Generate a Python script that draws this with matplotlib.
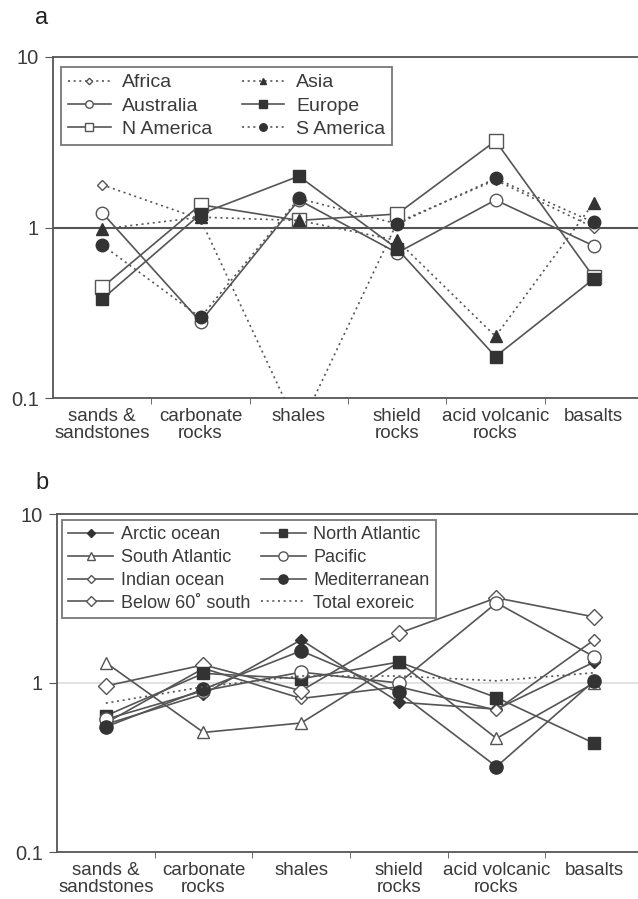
import matplotlib
matplotlib.use("Agg")
import matplotlib.pyplot as plt
import numpy as np

plt.rcParams['font.family'] = ['Liberation Sans', 'DejaVu Sans']

categories = ["sands &\nsandstones", "carbonate\nrocks", "shales", "shield\nrocks",
              "acid volcanic\nrocks", "basalts"]

# Panel a (continents)
africa = [1.78, 1.12, 0.065, 1.07, 1.90, 1.00]
australia = [1.22, 0.28, 1.45, 0.71, 1.45, 0.78]
n_america = [0.445, 1.36, 1.10, 1.20, 3.22, 0.51]
asia = [0.98, 1.15, 1.10, 0.84, 0.23, 1.40]
europe = [0.38, 1.20, 2.00, 0.75, 0.175, 0.50]
s_america = [0.79, 0.297, 1.48, 1.05, 1.94, 1.07]

# Panel b (oceans)
arctic = [0.57, 0.86, 1.80, 0.77, 0.70, 1.33]
south_atlantic = [1.32, 0.51, 0.58, 1.33, 0.47, 1.00]
indian = [0.58, 1.22, 0.81, 0.95, 0.69, 1.80]
below60 = [0.96, 1.28, 0.90, 1.97, 3.19, 2.46]
north_atlantic = [0.64, 1.14, 1.06, 1.33, 0.82, 0.44]
pacific = [0.61, 0.90, 1.16, 1.00, 2.98, 1.43]
mediterranean = [0.55, 0.92, 1.55, 0.88, 0.32, 1.03]
total_exoreic = [0.76, 0.95, 1.10, 1.10, 1.03, 1.15]

LC = "#555555"
DK = "#333333"
TXT = "#3a3a3a"
x = np.arange(len(categories))

fig = plt.figure(figsize=(6.38, 8.99), dpi=100)

def style_axis(ax):
    ax.set_yscale('log')
    ax.set_ylim(0.1, 10)
    ax.set_xlim(-0.5, 5.5)
    ax.set_yticks([0.1, 1, 10])
    ax.set_yticklabels(["0.1", "1", "10"])
    ax.yaxis.set_minor_locator(matplotlib.ticker.NullLocator())
    ax.set_xticks(x)
    ax.set_xticklabels(categories, linespacing=1.05)
    ax.set_xticks(np.arange(0.5, 5.0, 1.0), minor=True)
    ax.tick_params(axis='x', which='major', length=0, pad=7, labelsize=13.5, colors=TXT)
    ax.tick_params(axis='x', which='minor', length=4, direction='out', color=LC)
    ax.tick_params(axis='y', which='major', length=6, direction='out', labelsize=14.5,
                   colors=TXT, color=LC, pad=4)
    for s in ['left', 'bottom', 'top']:
        ax.spines[s].set_color(LC)
        ax.spines[s].set_linewidth(1.3)
    ax.spines['right'].set_visible(False)

# ---------- panel a ----------
axa = fig.add_axes([53/638, 1-398/899, 590/638, (398-57)/899])
style_axis(axa)
axa.axhline(1, color=LC, lw=1.5, zorder=1)
dot = (0, (1.2, 2.2))
series_a = [
    ("Africa", africa, dict(ls=dot, marker='D', ms=5.5, mfc='white', mec=LC)),
    ("Australia", australia, dict(ls='-', marker='o', ms=9, mfc='white', mec=LC)),
    ("N America", n_america, dict(ls='-', marker='s', ms=10, mfc='white', mec=LC)),
    ("Asia", asia, dict(ls=dot, marker='^', ms=8, mfc=DK, mec=DK)),
    ("Europe", europe, dict(ls='-', marker='s', ms=9, mfc=DK, mec=DK)),
    ("S America", s_america, dict(ls=dot, marker='o', ms=9, mfc=DK, mec=DK)),
]
for name, vals, kw in series_a:
    axa.plot(x, vals, color=LC, lw=1.2, label=name, zorder=3, clip_on=True, **kw)
leg = axa.legend(loc='upper left', ncol=2, bbox_to_anchor=(0.0136, 0.9707), borderaxespad=0,
                 frameon=True, fancybox=False, edgecolor=LC, fontsize=14, markerscale=0.6,
                 handlelength=2.2, handletextpad=0.6, columnspacing=1.5,
                 labelspacing=0.3, borderpad=0.35)
leg.get_frame().set_linewidth(1.3)
for t in leg.get_texts():
    t.set_color(TXT)
fig.text(35/638, 1-18/899, "a", fontsize=17, color="#222222", va='center', ha='left')

# ---------- panel b ----------
axb = fig.add_axes([57/638, 1-852/899, 586/638, (852-514)/899])
style_axis(axb)
axb.axhline(1, color="#dddddd", lw=1.2, zorder=1)
series_b = [
    ("Arctic ocean", arctic, dict(ls='-', marker='D', ms=6.5, mfc=DK, mec=DK)),
    ("South Atlantic", south_atlantic, dict(ls='-', marker='^', ms=9, mfc='white', mec=LC)),
    ("Indian ocean", indian, dict(ls='-', marker='D', ms=6.5, mfc='white', mec=LC)),
    ("Below 60\u02da south", below60, dict(ls='-', marker='D', ms=8, mfc='white', mec=LC)),
    ("North Atlantic", north_atlantic, dict(ls='-', marker='s', ms=9, mfc=DK, mec=DK)),
    ("Pacific", pacific, dict(ls='-', marker='o', ms=9.5, mfc='white', mec=LC)),
    ("Mediterranean", mediterranean, dict(ls='-', marker='o', ms=9.5, mfc=DK, mec=DK)),
    ("Total exoreic", total_exoreic, dict(ls=(0, (1.2, 2.2)), marker=None)),
]
for name, vals, kw in series_b:
    axb.plot(x, vals, color=LC, lw=1.2, label=name, zorder=3, **kw)
legb = axb.legend(loc='upper left', ncol=2, bbox_to_anchor=(0.0085, 0.982), borderaxespad=0,
                  frameon=True, fancybox=False, edgecolor=LC, fontsize=13, markerscale=0.7,
                  handlelength=2.5, handletextpad=0.4, columnspacing=0.6,
                  labelspacing=0.32, borderpad=0.35)
legb.get_frame().set_linewidth(1.3)
for t in legb.get_texts():
    t.set_color(TXT)
fig.text(35/638, 1-483/899, "b", fontsize=17, color="#222222", va='center', ha='left')

fig.savefig("out.png", dpi=100)
